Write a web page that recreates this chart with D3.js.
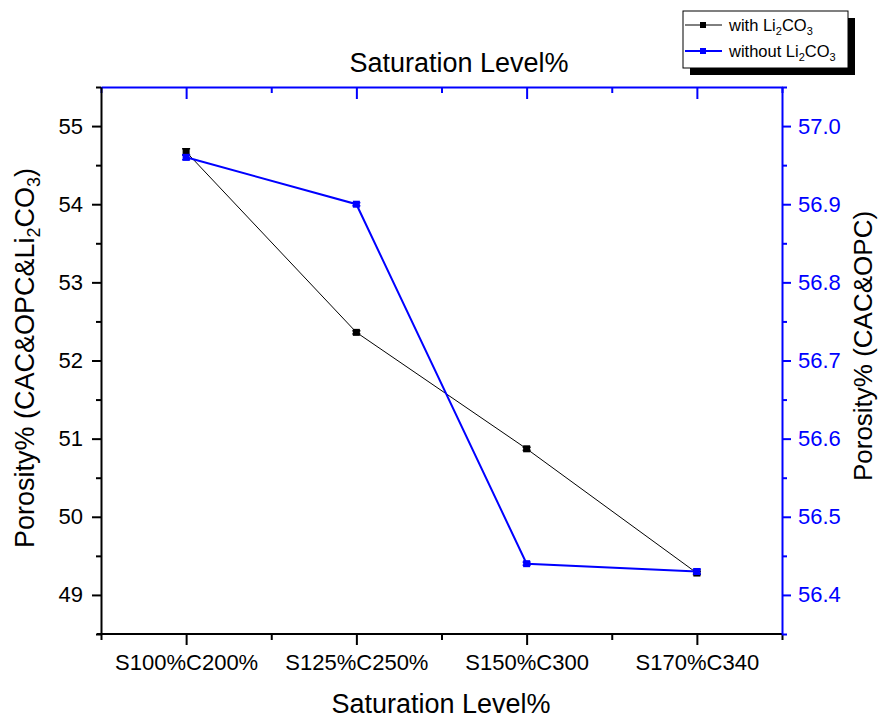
<!DOCTYPE html>
<html><head><meta charset="utf-8">
<script src="https://cdn.jsdelivr.net/npm/d3@7"></script>
<style>body{margin:0;background:#fff}svg{display:block;font-family:"Liberation Sans",Arial,sans-serif}</style>
</head><body>
<script>
const categories = ["S100%C200%", "S125%C250%", "S150%C300", "S170%C340"];
const withLi = [54.67, 52.36, 50.87, 49.28];
const withLiErr = [0.04, 0.02, 0.02, 0.02];
const withoutLi = [56.96, 56.90, 56.44, 56.43];
const withoutLiErr = [0.003, 0.002, 0.002, 0.003];
const leftTicks = [49, 50, 51, 52, 53, 54, 55];
const leftMinor = [48.5, 49.5, 50.5, 51.5, 52.5, 53.5, 54.5, 55.5];
const rightTicks = [56.4, 56.5, 56.6, 56.7, 56.8, 56.9, 57.0];
const rightMinor = [56.35, 56.45, 56.55, 56.65, 56.75, 56.85, 56.95, 57.05];

const W = 880, H = 719;
const L = 101, R = 782, T = 87, B = 634;
const BLUE = "#0000ff";
const svg = d3.select("body").append("svg").attr("width", W).attr("height", H);

const idx = categories.map((d, i) => i);
const x = d3.scaleLinear().domain([-0.5, 3.5]).range([L, R]);
const yL = d3.scaleLinear().domain([48.5, 55.5]).range([B, T]);
const yR = d3.scaleLinear().domain([56.35, 57.05]).range([B, T]);
const xMinor = [-0.5, 0.5, 1.5, 2.5, 3.5];

function style(g, color, fs) {
  g.select(".domain").attr("stroke", color).attr("stroke-width", 2);
  g.selectAll(".tick line").attr("stroke", color).attr("stroke-width", 2);
  g.selectAll(".tick text").attr("fill", color).style("font-size", fs + "px")
    .style("font-family", '"Liberation Sans",Arial,sans-serif');
}

// top axis (blue, ticks inward)
const gt = svg.append("g").attr("transform", `translate(0,${T})`)
  .call(d3.axisBottom(x).tickValues(idx).tickSize(12).tickSizeOuter(0).tickFormat(""));
style(gt, BLUE, 20);
const gt2 = svg.append("g").attr("transform", `translate(0,${T})`)
  .call(d3.axisBottom(x).tickValues(xMinor).tickSize(6).tickSizeOuter(0).tickFormat(""));
style(gt2, BLUE, 20); gt2.select(".domain").remove();

// bottom axis
const gb2 = svg.append("g").attr("transform", `translate(0,${B})`)
  .call(d3.axisBottom(x).tickValues(xMinor).tickSize(6).tickSizeOuter(0).tickFormat(""));
style(gb2, "#000", 20); gb2.select(".domain").remove();
const gb = svg.append("g").attr("transform", `translate(0,${B})`)
  .call(d3.axisBottom(x).tickValues(idx).tickSize(11).tickSizeOuter(0).tickPadding(9).tickFormat(i => categories[i]));
style(gb, "#000", 22);
gb.select(".domain").attr("d", `M${L - 4},0H${R}`);

// left axis
const gl2 = svg.append("g").attr("transform", `translate(${L},0)`)
  .call(d3.axisLeft(yL).tickValues(leftMinor).tickSize(5).tickSizeOuter(0).tickFormat(""));
style(gl2, "#000", 20); gl2.select(".domain").remove();
const gl = svg.append("g").attr("transform", `translate(${L},0)`)
  .call(d3.axisLeft(yL).tickValues(leftTicks).tickSize(9).tickSizeOuter(0).tickPadding(9).tickFormat(d3.format("d")));
style(gl, "#000", 22);

// right axis
const gr2 = svg.append("g").attr("transform", `translate(${R},0)`)
  .call(d3.axisRight(yR).tickValues(rightMinor).tickSize(5).tickSizeOuter(0).tickFormat(""));
style(gr2, BLUE, 20); gr2.select(".domain").remove();
const gr = svg.append("g").attr("transform", `translate(${R},0)`)
  .call(d3.axisRight(yR).tickValues(rightTicks).tickSize(9).tickSizeOuter(0).tickPadding(7).tickFormat(d3.format(".1f")));
style(gr, BLUE, 22);

// series
function series(vals, errs, yS, color, lw) {
  const pts = vals.map((v, i) => ({i, v, e: errs[i]}));
  svg.append("path").datum(pts)
    .attr("d", d3.line().x(d => x(d.i)).y(d => yS(d.v)))
    .attr("fill", "none").attr("stroke", color).attr("stroke-width", lw);
  const g = svg.append("g");
  pts.forEach(d => {
    const cx = x(d.i), y1 = yS(d.v + d.e), y2 = yS(d.v - d.e);
    g.append("line").attr("x1", cx).attr("x2", cx).attr("y1", y1).attr("y2", y2).attr("stroke", color).attr("stroke-width", 1.5);
    g.append("line").attr("x1", cx - 4).attr("x2", cx + 4).attr("y1", y1).attr("y2", y1).attr("stroke", color).attr("stroke-width", 1.5);
    g.append("line").attr("x1", cx - 4).attr("x2", cx + 4).attr("y1", y2).attr("y2", y2).attr("stroke", color).attr("stroke-width", 1.5);
    g.append("rect").attr("x", cx - 3.5).attr("y", yS(d.v) - 3.5).attr("width", 7).attr("height", 7).attr("fill", color);
  });
}
series(withLi, withLiErr, yL, "#000", 1);
series(withoutLi, withoutLiErr, yR, BLUE, 2);

// titles
svg.append("text").attr("x", 459).attr("y", 72).attr("text-anchor", "middle")
  .style("font-size", "27px").text("Saturation Level%");
svg.append("text").attr("x", 441).attr("y", 713).attr("text-anchor", "middle")
  .style("font-size", "27px").text("Saturation Level%");

const yl = svg.append("text").attr("transform", "translate(34,358) rotate(-90)")
  .attr("text-anchor", "middle").style("font-size", "27px");
yl.append("tspan").text("Porosity% (CAC&OPC&Li");
yl.append("tspan").text("2").style("font-size", "18px").attr("dy", 6);
yl.append("tspan").text("CO").attr("dy", -6);
yl.append("tspan").text("3").style("font-size", "18px").attr("dy", 6);
yl.append("tspan").text(")").attr("dy", -6);

svg.append("text").attr("transform", "translate(872,346) rotate(-90)")
  .attr("text-anchor", "middle").style("font-size", "26px").text("Porosity% (CAC&OPC)");

// legend
const lg = svg.append("g");
lg.append("rect").attr("x", 690).attr("y", 18).attr("width", 165).attr("height", 57).attr("fill", "#000");
lg.append("rect").attr("x", 683).attr("y", 11).attr("width", 165).attr("height", 57).attr("fill", "#fff").attr("stroke", "#000").attr("stroke-width", 1);
const legItems = [{name: "with Li", color: "#000", lw: 1}, {name: "without Li", color: BLUE, lw: 2}];
legItems.forEach((d, k) => {
  const yy = 25 + k * 26;
  lg.append("line").attr("x1", 685).attr("x2", 722).attr("y1", yy).attr("y2", yy).attr("stroke", d.color).attr("stroke-width", d.lw);
  lg.append("rect").attr("x", 700).attr("y", yy - 3).attr("width", 6).attr("height", 6).attr("fill", d.color);
  const t = lg.append("text").attr("x", 729).attr("y", yy + 6).style("font-size", "16.5px");
  t.append("tspan").text(d.name);
  t.append("tspan").text("2").style("font-size", "11px").attr("dy", 4);
  t.append("tspan").text("CO").attr("dy", -4);
  t.append("tspan").text("3").style("font-size", "11px").attr("dy", 4);
});
</script>
</body></html>
